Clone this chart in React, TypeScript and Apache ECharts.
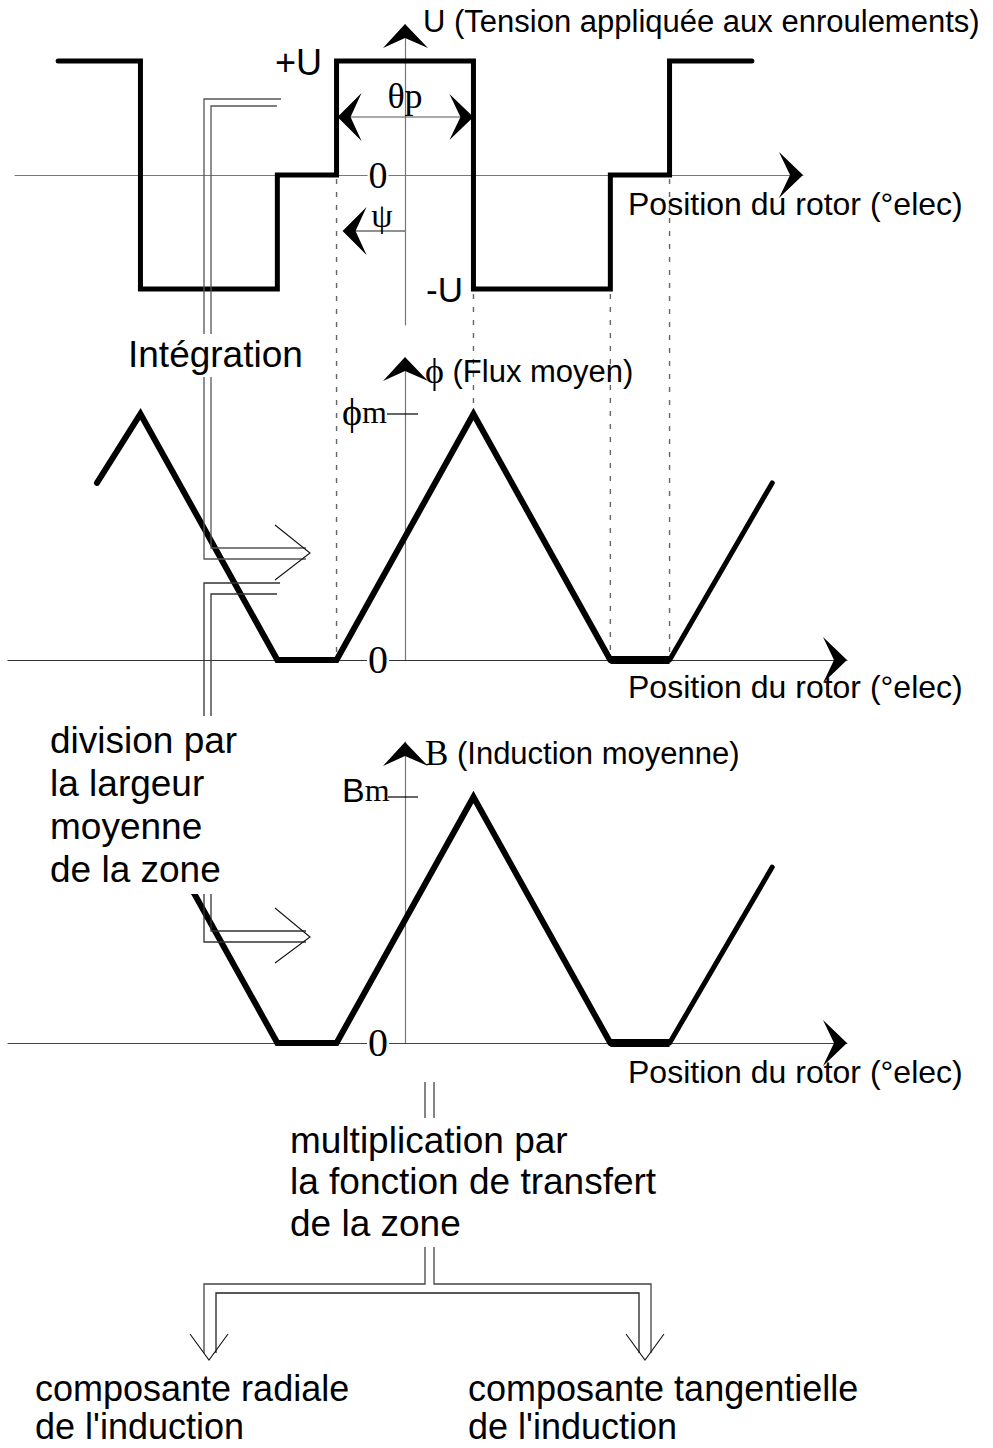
import React, { useEffect, useRef } from 'react';
import * as echarts from 'echarts';

// ---- data (electrical degrees, normalized amplitudes) ----
const voltageX = [-375, -286, -286, -138, -138, -74, -74, 74, 74, 222, 222, 286, 286, 375];
const voltageY = [1, 1, -1, -1, 0, 0, 1, 1, -1, -1, 0, 0, 1, 1];
const fluxX = [-333, -286, -138, -74, 74, 222, 286, 397];
const fluxY = [0.72, 1, 0, 0, 1, 0, 0, 0.72];
const inductionX = [-333, -286, -138, -74, 74, 222, 286, 397];
const inductionY = [0.72, 1, 0, 0, 1, 0, 0, 0.715];
const edgeAngles = [-74, 74, 222, 286];
const labelsTop = ['+U', '-U', '0', 'θp', 'ψ'];
const axisTitles = ['U (Tension appliquée aux enroulements)', 'ϕ', ' (Flux moyen)', 'B', ' (Induction moyenne)'];
const xTitle = 'Position du rotor (°elec)';
const divisionLines = ['division par', 'la largeur', 'moyenne', 'de la zone'];
const multLines = ['multiplication par', 'la fonction de transfert', 'de la zone'];
const radialLines = ['composante radiale', "de l'induction"];
const tangLines = ['composante tangentielle', "de l'induction"];

const SANS = '"Liberation Sans", Arial, sans-serif';
const SERIF = '"Liberation Serif", "Times New Roman", serif';

// ---- layout ----
const W = 993, H = 1448;
const X0 = 405;
const K = 333 / 360;
const panels = [
  { left: 15, right: 803, top: 25, bottom: 325, zero: 175, unit: 114, hColor: '#777' },
  { left: 8, right: 847, top: 358, bottom: 660, zero: 660, unit: 246, hColor: '#333' },
  { left: 8, right: 847, top: 742, bottom: 1043, zero: 1043, unit: 246, hColor: '#444' },
];
const gx = (deg: number) => X0 + deg * K;
const gy = (i: number, v: number) => panels[i].zero - v * panels[i].unit;

const zip = (xs: number[], ys: number[]) => xs.map((x, i) => [x, ys[i]]);

function arrowUp(x: number, tip: number) {
  return [[x, tip], [x + 23, tip + 24], [x, tip + 14], [x - 22, tip + 24]];
}
function arrowRight(tip: number, y: number) {
  return [[tip, y], [tip - 24, y - 23], [tip - 13, y], [tip - 24, y + 23]];
}
function arrowLeft(tip: number, y: number) {
  return [[tip, y], [tip + 24, y - 24], [tip + 13, y], [tip + 24, y + 24]];
}

function txt(text: string, x: number, y: number, size: number, family: string, extra: any = {}) {
  return {
    type: 'text', x, y, z: 20,
    style: { text, fontSize: size, fontFamily: family, fill: '#000', align: 'left', verticalAlign: 'middle', ...extra },
  };
}
function poly(points: number[][], z = 15) {
  return { type: 'polygon', z, shape: { points }, style: { fill: '#000' } };
}
function pline(points: number[][], stroke = '#444', lw = 1.3, z = 12) {
  return { type: 'polyline', z, shape: { points }, style: { stroke, lineWidth: lw, fill: null } };
}
function seg(x1: number, y1: number, x2: number, y2: number, stroke: string, lw: number, dash?: number[], z = 1) {
  return { type: 'line', z, shape: { x1, y1, x2, y2 }, style: { stroke, lineWidth: lw, lineDash: dash } };
}
function whiteRect(x: number, y: number, w: number, h: number) {
  return { type: 'rect', z: 18, shape: { x, y, width: w, height: h }, style: { fill: '#fff' } };
}

export default function App() {
  const ref = useRef<HTMLDivElement>(null);
  useEffect(() => {
    if (!ref.current) return;
    const chart = echarts.init(ref.current, undefined, { renderer: 'svg' });

    const grids = panels.map((p) => ({ left: p.left, top: p.top, width: p.right - p.left, height: p.bottom - p.top }));
    const xAxes = panels.map((p, i) => ({
      gridIndex: i, type: 'value',
      min: (p.left - X0) / K, max: (p.right - X0) / K,
      axisLine: { show: true, onZero: true, lineStyle: { color: p.hColor, width: 1.2 } },
      axisTick: { show: false }, axisLabel: { show: false }, splitLine: { show: false },
    }));
    const yAxes = panels.map((p, i) => ({
      gridIndex: i, type: 'value',
      min: (p.zero - p.bottom) / p.unit, max: (p.zero - p.top) / p.unit,
      axisLine: { show: true, onZero: true, lineStyle: { color: '#777', width: 1.2 } },
      axisTick: { show: false }, axisLabel: { show: false }, splitLine: { show: false },
    }));

    const lineSeries = (idx: number, data: number[][], width: number, cap = 'round') => ({
      type: 'line', xAxisIndex: idx, yAxisIndex: idx, data, showSymbol: false, symbol: 'none',
      clip: false, silent: true, z: 5,
      lineStyle: { color: '#000', width, cap, join: 'miter' },
    });

    const u = zip(voltageX, voltageY);
    const f = zip(fluxX, fluxY);
    const b = zip(inductionX, inductionY);

    const series = [
      lineSeries(0, u, 5, 'round'),
      lineSeries(1, f.slice(0, 6), 6),
      lineSeries(1, f.slice(5, 7), 8, 'butt'),
      lineSeries(1, f.slice(6), 5),
      lineSeries(2, b.slice(0, 6), 6),
      lineSeries(2, b.slice(5, 7), 8, 'butt'),
      lineSeries(2, b.slice(6), 5),
    ];

    const els: any[] = [];
    // dotted guides
    const dash = [5, 8];
    els.push(seg(gx(edgeAngles[0]), gy(0, 0) + 4, gx(edgeAngles[0]), gy(1, 0), '#666', 1.4, dash));
    els.push(seg(gx(edgeAngles[1]), gy(0, -1) + 5, gx(edgeAngles[1]), gy(1, 1) - 8, '#666', 1.4, dash));
    els.push(seg(gx(edgeAngles[2]), gy(0, -1) + 5, gx(edgeAngles[2]), gy(1, 0), '#666', 1.4, dash));
    els.push(seg(gx(edgeAngles[3]), gy(0, 0) + 4, gx(edgeAngles[3]), gy(1, 0), '#666', 1.4, dash));

    // axis arrowheads
    els.push(poly(arrowUp(X0, panels[0].top - 1)));
    els.push(poly(arrowUp(X0, panels[1].top - 1)));
    els.push(poly(arrowUp(X0, panels[2].top)));
    els.push(poly(arrowRight(panels[0].right, gy(0, 0))));
    els.push(poly(arrowRight(panels[1].right, gy(1, 0))));
    els.push(poly(arrowRight(panels[2].right, gy(2, 0))));

    // theta_p dimension
    const yTheta = 117;
    els.push(seg(gx(-74) + 2, yTheta, gx(74) - 2, yTheta, '#555', 1.2, undefined, 10));
    els.push(poly(arrowLeft(gx(-74) + 1, yTheta)));
    els.push(poly(arrowRight(gx(74), yTheta)));
    // psi
    const yPsi = 231;
    els.push(seg(X0, yPsi, gx(-74) + 8, yPsi, '#222', 1.2, undefined, 10));
    els.push(poly(arrowLeft(gx(-74) + 6, yPsi)));

    // phi_m / B_m ticks
    els.push(seg(X0 - 18, gy(1, 1), X0 + 13, gy(1, 1), '#000', 1.2, undefined, 10));
    els.push(seg(X0 - 17, gy(2, 1), X0 + 13, gy(2, 1), '#000', 1.2, undefined, 10));

    // hollow arrow: Intégration
    els.push(pline([[281, 99], [204, 99], [204, 559], [306, 559]], '#555'));
    els.push(pline([[277, 106], [211, 106], [211, 548], [306, 548]], '#555'));
    els.push(pline([[275, 525], [310, 553], [275, 580]], '#111', 1.1));
    // hollow arrow: division
    els.push(pline([[280, 583], [204, 583], [204, 942], [306, 942]], '#333'));
    els.push(pline([[277, 594], [211, 594], [211, 931], [306, 931]], '#333'));
    els.push(pline([[275, 908], [310, 937], [275, 963]], '#111', 1.1));
    // bottom branching arrow
    els.push(pline([[425, 1082], [425, 1284], [204, 1284], [204, 1353]], '#444'));
    els.push(pline([[434, 1082], [434, 1284], [651, 1284], [651, 1353]], '#444'));
    els.push(pline([[216, 1353], [216, 1293], [639, 1293], [639, 1353]], '#222'));
    els.push(pline([[190, 1334], [209, 1360], [228, 1334]], '#111', 1.1));
    els.push(pline([[626, 1334], [645, 1360], [664, 1334]], '#111', 1.1));

    // white masks behind text blocks
    els.push(whiteRect(118, 334, 196, 43));
    els.push(whiteRect(40, 716, 212, 178));
    els.push(whiteRect(282, 1118, 390, 129));

    // texts - top panel
    els.push(txt(axisTitles[0], 423, 21, 31, SANS));
    els.push(txt(labelsTop[0], 275, gy(0, 1) + 1, 36, SANS));
    els.push(txt(labelsTop[1], 426, gy(0, -1), 35, SANS));
    els.push(txt(labelsTop[2], 378, gy(0, 0), 38, SERIF, { align: 'center', backgroundColor: '#fff', padding: [0, 1] }));
    els.push(txt(labelsTop[3], X0, 96, 36, SERIF, { align: 'center' }));
    els.push(txt(labelsTop[4], 382, 215, 34, SERIF, { align: 'center' }));
    els.push(txt(xTitle, 628, 204, 32, SANS));

    // flux panel
    els.push(txt('Intégration', 128, 354, 37, SANS));
    els.push({
      type: 'text', x: 425, y: 371, z: 20,
      style: {
        text: '{s|' + axisTitles[1] + '}{t|' + axisTitles[2] + '}', verticalAlign: 'middle', align: 'left', fill: '#000',
        rich: { s: { fontFamily: SERIF, fontSize: 36, fill: '#000' }, t: { fontFamily: SANS, fontSize: 31, fill: '#000' } },
      },
    });
    els.push({
      type: 'text', x: 342, y: 412, z: 20,
      style: {
        text: '{s|ϕ}{m|m}', verticalAlign: 'middle', align: 'left', fill: '#000',
        rich: { s: { fontFamily: SERIF, fontSize: 38, fill: '#000' }, m: { fontFamily: SERIF, fontSize: 32, fill: '#000' } },
      },
    });
    els.push(txt('0', 378, gy(1, 0) - 1, 40, SERIF, { align: 'center', backgroundColor: '#fff', padding: [0, 1] }));
    els.push(txt(xTitle, 628, 687, 32, SANS));

    // induction panel
    divisionLines.forEach((t, i) => els.push(txt(t, 50, 740 + i * 43.3, 37, SANS)));
    els.push({
      type: 'text', x: 425, y: 753, z: 20,
      style: {
        text: '{s|' + axisTitles[3] + '}{t|' + axisTitles[4] + '}', verticalAlign: 'middle', align: 'left', fill: '#000',
        rich: { s: { fontFamily: SERIF, fontSize: 35, fill: '#000' }, t: { fontFamily: SANS, fontSize: 31, fill: '#000' } },
      },
    });
    els.push({
      type: 'text', x: 342, y: 790, z: 20,
      style: {
        text: '{b|B}{m|m}', verticalAlign: 'middle', align: 'left', fill: '#000',
        rich: { b: { fontFamily: SANS, fontSize: 34, fill: '#000' }, m: { fontFamily: SERIF, fontSize: 32, fill: '#000' } },
      },
    });
    els.push(txt('0', 378, gy(2, 0) - 1, 40, SERIF, { align: 'center', backgroundColor: '#fff', padding: [0, 1] }));
    els.push(txt(xTitle, 628, 1072, 32, SANS));

    // bottom texts
    multLines.forEach((t, i) => els.push(txt(t, 290, 1140 + i * 41.5, 37, SANS)));
    radialLines.forEach((t, i) => els.push(txt(t, 35, 1388 + i * 38, 36, SANS)));
    tangLines.forEach((t, i) => els.push(txt(t, 468, 1388 + i * 38, 36, SANS)));

    chart.setOption({
      animation: false,
      backgroundColor: '#fff',
      grid: grids,
      xAxis: xAxes,
      yAxis: yAxes,
      series,
      graphic: { elements: els },
    });
    return () => chart.dispose();
  }, []);
  return <div ref={ref} style={{ position: 'absolute', left: 0, top: 0, width: W, height: H }} />;
}
